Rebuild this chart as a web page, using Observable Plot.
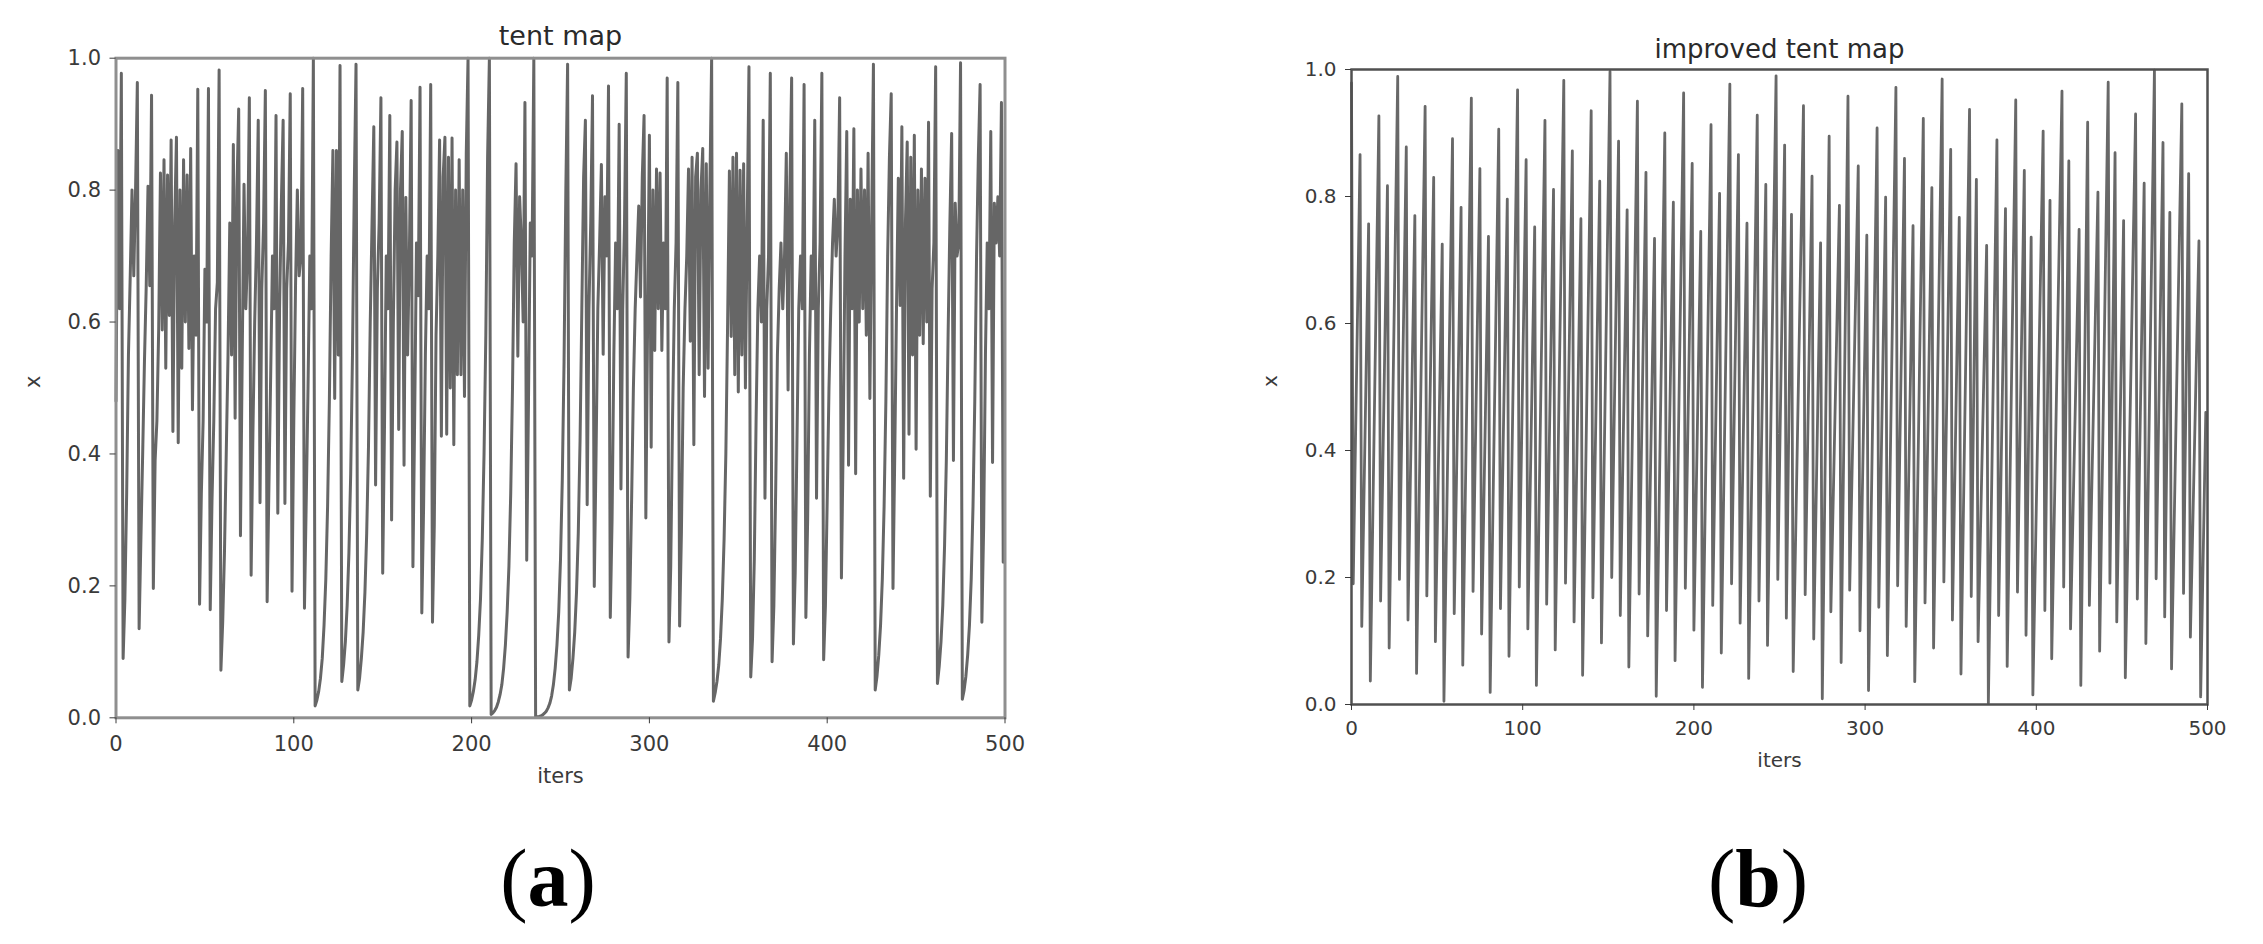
<!DOCTYPE html>
<html><head><meta charset="utf-8">
<script src="https://cdn.jsdelivr.net/npm/d3@7"></script>
<script src="https://cdn.jsdelivr.net/npm/@observablehq/plot@0.6"></script>
<style>
html,body{margin:0;padding:0;background:#fff;}
#root{position:relative;width:2263px;height:944px;overflow:hidden;background:#fff;}
</style></head><body><div id="root"></div>
<script>
// ---- data ----
const xTicks = [0, 100, 200, 300, 400, 500];
const yTicks = [0, 0.2, 0.4, 0.6, 0.8, 1.0];
const titles = ["tent map", "improved tent map"];
const xLabel = "iters";
const yLabel = "x";
const panelLetters = ["a", "b"];

// (a) tent map: value of x at each iteration 0..499
const tentX = [
0.48,0.86,0.62,0.977,0.09,0.18,0.34,0.55,0.67,0.80,
0.67,0.80,0.963,0.135,0.27,0.40,0.54,0.655,0.806,0.655,
0.944,0.196,0.39,0.45,0.588,0.826,0.588,0.846,0.53,0.823,
0.61,0.876,0.434,0.75,0.88,0.417,0.80,0.53,0.846,0.60,
0.823,0.56,0.863,0.467,0.70,0.58,0.953,0.172,0.34,0.45,
0.68,0.60,0.954,0.164,0.33,0.45,0.62,0.66,0.982,0.072,
0.144,0.25,0.40,0.55,0.75,0.55,0.869,0.454,0.80,0.923,
0.276,0.55,0.809,0.62,0.70,0.94,0.216,0.43,0.60,0.72,
0.906,0.326,0.65,0.75,0.951,0.176,0.35,0.52,0.70,0.62,
0.913,0.31,0.62,0.78,0.906,0.325,0.65,0.72,0.946,0.192,
0.45,0.66,0.80,0.67,0.70,0.954,0.166,0.33,0.5,0.70,
0.62,1.0,0.018,0.027,0.04,0.06,0.09,0.14,0.21,0.32,
0.48,0.70,0.86,0.484,0.86,0.55,0.989,0.055,0.08,0.115,
0.17,0.25,0.37,0.55,0.8,0.991,0.042,0.06,0.09,0.13,
0.19,0.28,0.41,0.6,0.75,0.896,0.353,0.65,0.75,0.94,
0.219,0.44,0.70,0.62,0.913,0.30,0.60,0.80,0.873,0.437,
0.80,0.889,0.383,0.789,0.55,0.70,0.936,0.229,0.46,0.72,
0.64,0.956,0.159,0.32,0.55,0.70,0.62,0.96,0.145,0.29,
0.58,0.70,0.876,0.427,0.82,0.88,0.43,0.85,0.50,0.879,
0.414,0.80,0.52,0.846,0.52,0.80,0.487,0.856,1.0,0.018,
0.027,0.04,0.058,0.085,0.125,0.18,0.27,0.40,0.58,0.85,
1.0,0.005,0.0075,0.011,0.016,0.024,0.035,0.05,0.075,0.11,
0.16,0.23,0.34,0.5,0.72,0.84,0.548,0.79,0.72,0.6,
0.933,0.239,0.48,0.75,0.7,1.0,0.001,0.0015,0.002,0.003,
0.0045,0.007,0.01,0.015,0.022,0.033,0.05,0.075,0.11,0.16,
0.24,0.36,0.54,0.8,0.991,0.042,0.06,0.09,0.13,0.19,
0.28,0.42,0.62,0.82,0.906,0.323,0.62,0.75,0.943,0.199,
0.40,0.62,0.72,0.839,0.551,0.79,0.70,0.958,0.152,0.3,
0.55,0.72,0.62,0.90,0.347,0.62,0.75,0.977,0.092,0.18,
0.33,0.5,0.62,0.70,0.776,0.638,0.82,0.913,0.303,0.6,
0.883,0.41,0.80,0.557,0.832,0.62,0.826,0.557,0.72,0.62,
0.97,0.115,0.23,0.45,0.62,0.72,0.963,0.139,0.28,0.5,
0.62,0.70,0.832,0.571,0.85,0.414,0.82,0.856,0.52,0.80,
0.863,0.487,0.84,0.53,0.80,1.0,0.025,0.038,0.055,0.08,
0.12,0.18,0.27,0.40,0.6,0.829,0.578,0.85,0.52,0.856,
0.494,0.83,0.55,0.84,0.50,0.75,0.987,0.062,0.12,0.24,
0.45,0.62,0.70,0.60,0.906,0.333,0.62,0.70,0.977,0.085,
0.17,0.34,0.55,0.65,0.72,0.62,0.70,0.856,0.497,0.80,
0.97,0.112,0.22,0.42,0.62,0.70,0.62,0.96,0.152,0.3,
0.55,0.70,0.62,0.906,0.333,0.62,0.72,0.977,0.088,0.17,
0.33,0.5,0.62,0.72,0.786,0.70,0.75,0.94,0.212,0.42,
0.70,0.889,0.383,0.786,0.62,0.893,0.37,0.80,0.60,0.832,
0.62,0.80,0.58,0.856,0.484,0.75,0.991,0.042,0.063,0.095,
0.14,0.21,0.32,0.48,0.70,0.85,0.946,0.196,0.4,0.625,
0.818,0.625,0.896,0.363,0.75,0.873,0.43,0.85,0.55,0.883,
0.407,0.80,0.58,0.832,0.567,0.818,0.60,0.903,0.336,0.65,
0.72,0.987,0.052,0.078,0.115,0.17,0.26,0.39,0.58,0.75,
0.886,0.39,0.78,0.70,0.72,0.993,0.028,0.042,0.063,0.095,
0.14,0.21,0.32,0.48,0.70,0.85,0.96,0.145,0.29,0.55,
0.72,0.62,0.889,0.387,0.78,0.72,0.79,0.70,0.933,0.236
];

// (b) improved tent map: each swing = peak at impIter[k], trough one step later
const impIter = [0,5,10,16,21,27,32,37,43,48,53,59,64,70,75,80,86,91,97,102,107,113,118,
124,129,134,140,145,151,156,161,167,172,177,183,188,194,199,204,210,215,221,226,231,237,242,
248,253,257,264,269,274,279,285,290,296,301,307,312,318,323,328,334,339,345,350,355,361,365,
371,377,382,388,393,397,404,408,415,419,425,430,436,442,446,451,458,463,469,474,478,485,489,495];
const impTop = [0.979,0.866,0.757,0.927,0.817,0.989,0.878,0.770,0.942,0.830,0.725,0.891,0.783,0.955,0.844,0.737,0.906,0.796,0.968,0.858,0.752,0.920,0.811,
0.983,0.872,0.765,0.935,0.824,0.997,0.887,0.779,0.950,0.838,0.734,0.900,0.791,0.963,0.852,0.745,0.913,0.805,0.977,0.866,0.758,0.928,0.819,
0.990,0.881,0.772,0.943,0.832,0.727,0.895,0.786,0.958,0.848,0.739,0.908,0.799,0.972,0.860,0.754,0.923,0.814,0.985,0.874,0.767,0.937,0.827,
0.723,0.889,0.781,0.952,0.841,0.736,0.903,0.794,0.966,0.856,0.748,0.917,0.807,0.980,0.869,0.762,0.930,0.821,0.999,0.885,0.775,0.946,0.836,0.730];
const impBottom = [0.190,0.123,0.037,0.163,0.089,0.197,0.133,0.049,0.171,0.099,0.005,0.143,0.062,0.178,0.111,0.019,0.151,0.076,0.185,0.119,0.030,0.158,0.086,
0.191,0.130,0.046,0.168,0.097,0.200,0.140,0.059,0.174,0.108,0.013,0.148,0.069,0.183,0.117,0.027,0.156,0.081,0.190,0.128,0.041,0.163,0.093,
0.197,0.136,0.052,0.173,0.103,0.009,0.146,0.066,0.180,0.116,0.022,0.153,0.077,0.187,0.123,0.036,0.160,0.089,0.193,0.133,0.048,0.170,0.099,
0.002,0.140,0.060,0.177,0.109,0.015,0.148,0.072,0.185,0.119,0.030,0.156,0.084,0.191,0.130,0.042,0.166,0.096,0.198,0.138,0.056,0.175,0.106,0.012];
const impLastIter = 499;
const impLastX = 0.46;

// ---- tables built from the arrays ----
const tentRows = tentX.map((v, i) => ({i, v}));
const impRows = [];
impIter.forEach((t, k) => {
  impRows.push({i: t, v: impTop[k]});
  impRows.push({i: t + 1, v: impBottom[k]});
});
impRows.push({i: impLastIter, v: impLastX});

const root = document.getElementById("root");

function panel({rows, width, height, mL, mR, mT, mB, title, tickFont, titleFont, titleDy, xlabDy, ylabDx, lineColor, lineWidth, frameColor, frameWidth, tickPad}) {
  return Plot.plot({
    width, height,
    marginLeft: mL, marginRight: mR, marginTop: mT, marginBottom: mB,
    x: {domain: [0, 500]},
    y: {domain: [0, 1]},
    style: {background: "transparent", fontFamily: "DejaVu Sans, sans-serif", color: "#333", overflow: "visible"},
    marks: [
      Plot.line(rows, {x: "i", y: "v", stroke: lineColor, strokeWidth: lineWidth, strokeLinejoin: "round"}),
      Plot.frame({stroke: frameColor, strokeWidth: frameWidth}),
      Plot.axisX({ticks: xTicks, tickSize: 6, tickPadding: tickPad, fontSize: tickFont, label: null, tickFormat: d => String(d), color: "#3a3a3a"}),
      Plot.axisY({ticks: yTicks, tickSize: 6, tickPadding: 9, fontSize: tickFont, label: null, tickFormat: d => d.toFixed(1), color: "#3a3a3a"}),
      Plot.text([title], {text: d => d, frameAnchor: "top", dy: titleDy, lineAnchor: "bottom", fontSize: titleFont, fill: "#2a2a2a"}),
      Plot.text([xLabel], {text: d => d, frameAnchor: "bottom", dy: xlabDy, fontSize: tickFont, fill: "#3a3a3a"}),
      Plot.text([yLabel], {text: d => d, frameAnchor: "left", dx: ylabDx, rotate: -90, fontSize: tickFont, fill: "#3a3a3a"})
    ]
  });
}

const left = panel({rows: tentRows, width: 1100, height: 820, mL: 115.5, mR: 95.5, mT: 57.7, mB: 102.7,
  title: titles[0], tickFont: 21, titleFont: 27, titleDy: -13, xlabDy: 65, ylabDx: -83,
  lineColor: "#666666", lineWidth: 3, frameColor: "#8f8f8f", frameWidth: 3, tickPad: 12});
left.style.position = "absolute"; left.style.left = "0px"; left.style.top = "0px";
root.appendChild(left);

const right = panel({rows: impRows, width: 1023, height: 820, mL: 111, mR: 56, mT: 69, mB: 116,
  title: titles[1], tickFont: 20, titleFont: 26, titleDy: -12, xlabDy: 62, ylabDx: -81,
  lineColor: "#686868", lineWidth: 2.8, frameColor: "#505050", frameWidth: 2.5, tickPad: 10});
right.style.position = "absolute"; right.style.left = "1240px"; right.style.top = "0px";
root.appendChild(right);

// panel letters (a), (b)
const ov = d3.create("svg").attr("width", 2263).attr("height", 944)
  .style("position", "absolute").style("left", "0px").style("top", "0px");
const letterX = [548, 1758];
panelLetters.forEach((l, k) => {
  const t = ov.append("text").attr("x", letterX[k]).attr("y", 906)
    .attr("text-anchor", "middle").attr("font-family", "Liberation Serif, serif")
    .attr("font-size", 82).attr("fill", "#000");
  t.append("tspan").text("(");
  t.append("tspan").attr("font-weight", "bold").text(l);
  t.append("tspan").text(")");
});
root.appendChild(ov.node());
</script></body></html>
